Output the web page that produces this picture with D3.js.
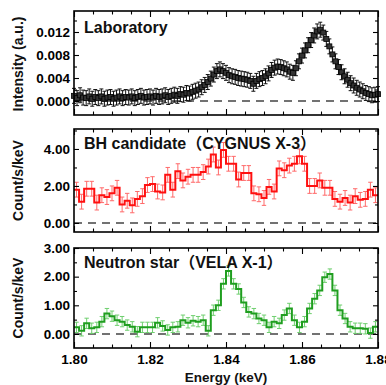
<!DOCTYPE html>
<html><head><meta charset="utf-8">
<script src="https://cdn.jsdelivr.net/npm/d3@7"></script>
<style>body{margin:0;background:#fff}svg{display:block}</style>
</head><body>
<svg id="c" width="386" height="385"></svg>
<script>
// ---------- data ----------
const energyDomain = [1.80, 1.88];
const xMajorTicks = [1.80, 1.82, 1.84, 1.86, 1.88];
const xMinorTicks = [1.805,1.81,1.815,1.825,1.83,1.835,1.845,1.85,1.855,1.865,1.87,1.875];

// Laboratory spectrum (points every 0.0008 keV starting at 1.800)
const labStart = 1.800, labStep = 0.0008;
const labIntensity = [
 0.0009,0.0005,0.0010,0.0006,0.0005,0.0008,0.0004,0.0007,0.0005,0.0008,
 0.0004,0.0006,0.0007,0.0004,0.0006,0.0008,0.0005,0.0007,0.0006,0.0008,
 0.0005,0.0007,0.0009,0.0006,0.0007,0.0008,0.0006,0.0009,0.0007,0.0008,
 0.0010,0.0007,0.0009,0.0011,0.0009,0.0012,0.0011,0.0014,0.0013,0.0016,
 0.0018,0.0020,0.0024,0.0028,0.0033,0.0039,0.0046,0.0052,0.0055,0.0052,
 0.0049,0.0045,0.0043,0.0042,0.0040,0.0039,0.0038,0.0037,0.0035,0.0030,
 0.0035,0.0038,0.0040,0.0043,0.0048,0.0054,0.0058,0.0060,0.0059,0.0057,
 0.0055,0.0051,0.0049,0.0057,0.0069,0.0079,0.0088,0.0097,0.0106,0.0114,
 0.0121,0.0124,0.0119,0.0108,0.0095,0.0081,0.0069,0.0059,0.0050,0.0043,
 0.0037,0.0031,0.0027,0.0023,0.0020,0.0017,0.0014,0.0012,0.0010,0.0011,0.0012
];
const labError = 0.0013;
const labTicks = [0, 0.004, 0.008, 0.012];

// histogram bins (60 bins across 1.80-1.88 keV)
const bhCounts = [
 1.80,1.15,1.85,1.85,1.10,1.50,1.40,1.60,1.90,1.00,
 1.20,0.95,1.30,1.45,2.05,2.10,1.70,1.65,2.60,1.80,
 2.80,2.30,2.50,2.60,2.60,2.75,3.05,3.70,3.00,3.95,
 3.20,3.20,2.35,2.70,2.70,1.60,1.55,1.35,1.95,1.70,
 2.95,2.85,3.10,3.20,3.60,3.20,2.00,2.00,2.30,1.90,
 1.90,1.30,1.15,1.35,1.10,1.45,1.25,1.30,1.80,1.50
];
const bhError = 0.4;
const bhTicks = [0, 2, 4];

const nsCounts = [
 0.23,0.11,0.37,0.20,0.23,0.43,0.71,0.62,0.48,0.43,
 0.31,0.25,0.08,0.23,0.23,0.23,0.39,0.28,0.14,0.23,
 0.25,0.48,0.39,0.46,0.43,0.48,0.11,0.83,1.00,1.75,
 2.20,1.75,1.57,1.10,0.77,0.71,0.54,0.48,0.23,0.43,
 0.37,0.66,0.89,0.48,0.23,0.43,0.89,1.23,1.52,1.98,
 2.09,1.52,0.83,0.54,0.25,0.20,0.20,0.18,0.03,0.25
];
const nsError = 0.18;
const nsTicks = [0, 1, 2, 3];

const panelTitles = ["Laboratory", "BH candidate（CYGNUS X-3）", "Neutron star（VELA X-1）"];
const yLabels = ["Intensity (a.u.)", "Count/s/keV", "Count/s/keV"];
const xLabel = "Energy (keV)";

// ---------- layout ----------
const svg = d3.select("#c");
svg.append("rect").attr("width",386).attr("height",385).attr("fill","#fff");
const FONT = "'Liberation Sans', Arial, 'Noto Sans CJK SC', sans-serif";
const x = d3.scaleLinear().domain(energyDomain).range([74, 378]);

const panels = [
  {top: 11,  bottom: 115, domain: [-0.00243, 0.01565], ticks: labTicks, minor: [0.002,0.006,0.010,0.014], fmt: d3.format(".3f")},
  {top: 129, bottom: 232, domain: [-0.49, 5.08], ticks: bhTicks, minor: [1,3,5], fmt: d3.format(".2f")},
  {top: 248, bottom: 348, domain: [-0.49, 3.0], ticks: nsTicks, minor: [0.5,1.5,2.5], fmt: d3.format(".2f")}
];

panels.forEach((p, k) => {
  p.y = d3.scaleLinear().domain(p.domain).range([p.bottom, p.top]);
  const g = svg.append("g");
  p.g = g;
  g.append("line")
    .attr("x1", x.range()[0]).attr("x2", x.range()[1])
    .attr("y1", p.y(0)).attr("y2", p.y(0))
    .attr("stroke", "#444").attr("stroke-width", 1.6)
    .attr("stroke-dasharray", "8,6");
});

function styleAxis(sel){
  sel.select(".domain").remove();
  sel.selectAll(".tick line").attr("stroke","#000").attr("stroke-width",1.1);
  sel.selectAll(".tick text").attr("fill","#000").style("font-family",FONT)
     .style("font-size","13.5px").style("font-weight","bold");
}

// ---------- laboratory points ----------
{
  const p = panels[0], g = p.g;
  const pts = labIntensity.map((v,i)=>({e: labStart + i*labStep, v}));
  const eg = g.append("g").attr("stroke","#111").attr("stroke-width",1);
  pts.forEach(d => {
    const cx = x(d.e), y1 = p.y(d.v - labError), y2 = p.y(d.v + labError);
    eg.append("line").attr("x1",cx).attr("x2",cx).attr("y1",y1).attr("y2",y2);
    eg.append("line").attr("x1",cx-2).attr("x2",cx+2).attr("y1",y1).attr("y2",y1);
    eg.append("line").attr("x1",cx-2).attr("x2",cx+2).attr("y1",y2).attr("y2",y2);
  });
  g.append("g").selectAll("rect").data(pts).join("rect")
    .attr("x", d=>x(d.e)-2.5).attr("y", d=>p.y(d.v)-2.5)
    .attr("width",5).attr("height",5)
    .attr("fill","#333").attr("stroke","#000").attr("stroke-width",0.8);
}

// ---------- histograms ----------
function drawHist(p, counts, err, lineColor, errColor){
  const g = p.g;
  const w = (energyDomain[1]-energyDomain[0]) / counts.length;
  const centers = counts.map((v,i)=>({e: energyDomain[0] + (i+0.5)*w, v}));
  const eg = g.append("g").attr("stroke", errColor).attr("stroke-width",1);
  centers.forEach(d => {
    const cx = x(d.e), y1 = p.y(d.v - err), y2 = p.y(d.v + err);
    eg.append("line").attr("x1",cx).attr("x2",cx).attr("y1",y1).attr("y2",y2);
    eg.append("line").attr("x1",cx-2.2).attr("x2",cx+2.2).attr("y1",y1).attr("y2",y1);
    eg.append("line").attr("x1",cx-2.2).attr("x2",cx+2.2).attr("y1",y2).attr("y2",y2);
  });
  const steps = counts.map((v,i)=>[energyDomain[0] + i*w, v]);
  steps.push([energyDomain[1], counts[counts.length-1]]);
  const line = d3.line().x(d=>x(d[0])).y(d=>p.y(d[1])).curve(d3.curveStepAfter);
  g.append("path").attr("d", line(steps)).attr("fill","none")
    .attr("stroke", lineColor).attr("stroke-width", 2);
}
drawHist(panels[1], bhCounts, bhError, "#ff1010", "#ff6a6a");
drawHist(panels[2], nsCounts, nsError, "#1f9e1f", "#6fcf6f");

// ---------- frames, axes, labels ----------
panels.forEach((p, k) => {
  const g = svg.append("g");
  const isLast = k === panels.length - 1;
  const ab = g.append("g").attr("transform",`translate(0,${p.bottom})`)
    .call(d3.axisBottom(x).tickValues(xMajorTicks).tickSize(-6).tickPadding(6)
      .tickFormat(isLast ? d3.format(".2f") : ""));
  styleAxis(ab);
  styleAxis(g.append("g").attr("transform",`translate(0,${p.bottom})`)
    .call(d3.axisBottom(x).tickValues(xMinorTicks).tickSize(-3.5).tickFormat("")));
  styleAxis(g.append("g").attr("transform",`translate(0,${p.top})`)
    .call(d3.axisTop(x).tickValues(xMajorTicks).tickSize(-6).tickFormat("")));
  styleAxis(g.append("g").attr("transform",`translate(0,${p.top})`)
    .call(d3.axisTop(x).tickValues(xMinorTicks).tickSize(-3.5).tickFormat("")));
  styleAxis(g.append("g").attr("transform",`translate(${x.range()[0]},0)`)
    .call(d3.axisLeft(p.y).tickValues(p.ticks).tickSize(-5).tickPadding(4).tickFormat(p.fmt)));
  styleAxis(g.append("g").attr("transform",`translate(${x.range()[0]},0)`)
    .call(d3.axisLeft(p.y).tickValues(p.minor.filter(v=>v<p.domain[1])).tickSize(-3).tickFormat("")));
  styleAxis(g.append("g").attr("transform",`translate(${x.range()[1]},0)`)
    .call(d3.axisRight(p.y).tickValues(p.ticks).tickSize(-5).tickFormat("")));
  styleAxis(g.append("g").attr("transform",`translate(${x.range()[1]},0)`)
    .call(d3.axisRight(p.y).tickValues(p.minor.filter(v=>v<p.domain[1])).tickSize(-3).tickFormat("")));
  g.append("rect").attr("x", x.range()[0]).attr("y", p.top)
    .attr("width", x.range()[1]-x.range()[0]).attr("height", p.bottom-p.top)
    .attr("fill","none").attr("stroke","#000").attr("stroke-width",1.6);
  g.append("text").attr("x", x.range()[0] + 10).attr("y", p.top + (k===0?22:20))
    .text(panelTitles[k])
    .style("font-family",FONT).style("font-size","16px").style("font-weight","bold")
    .attr("fill","#111");
  const cy = (p.top + p.bottom)/2 + (k===0 ? 1 : 0);
  g.append("text").attr("transform",`translate(23,${cy}) rotate(-90)`)
    .attr("text-anchor","middle").text(yLabels[k])
    .style("font-family",FONT).style("font-size","14px").style("font-weight","bold")
    .attr("fill","#111");
});

svg.append("text").attr("x", (x.range()[0]+x.range()[1])/2).attr("y", 382)
  .attr("text-anchor","middle").text(xLabel)
  .style("font-family",FONT).style("font-size","13.5px").style("font-weight","bold")
  .attr("fill","#111");
</script>
</body></html>
